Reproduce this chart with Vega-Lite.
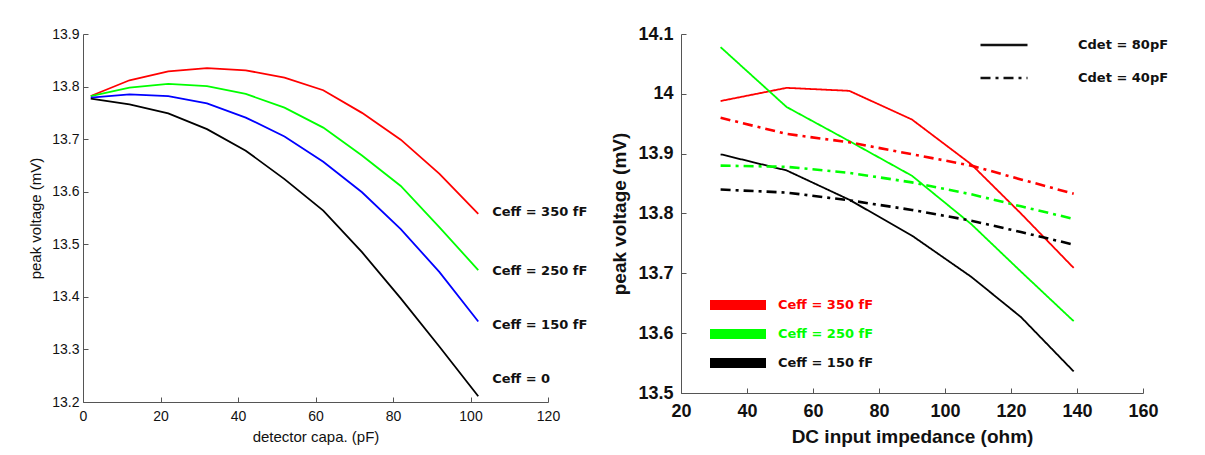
{
  "$schema": "https://vega.github.io/schema/vega-lite/v6.json",
  "background": "white",
  "padding": {"left": 28, "top": 20, "right": 5, "bottom": 5},
  "bounds": "flush",
  "spacing": 133,
  "datasets": {
    "left": [
      {"capa": 2, "voltage": 13.782, "ceff": "Ceff = 350 fF"},
      {"capa": 12, "voltage": 13.812, "ceff": "Ceff = 350 fF"},
      {"capa": 22, "voltage": 13.829, "ceff": "Ceff = 350 fF"},
      {"capa": 32, "voltage": 13.835, "ceff": "Ceff = 350 fF"},
      {"capa": 42, "voltage": 13.831, "ceff": "Ceff = 350 fF"},
      {"capa": 52, "voltage": 13.817, "ceff": "Ceff = 350 fF"},
      {"capa": 62, "voltage": 13.793, "ceff": "Ceff = 350 fF"},
      {"capa": 72, "voltage": 13.750, "ceff": "Ceff = 350 fF"},
      {"capa": 82, "voltage": 13.699, "ceff": "Ceff = 350 fF"},
      {"capa": 92, "voltage": 13.634, "ceff": "Ceff = 350 fF"},
      {"capa": 102, "voltage": 13.558, "ceff": "Ceff = 350 fF"},
      {"capa": 2, "voltage": 13.782, "ceff": "Ceff = 250 fF"},
      {"capa": 12, "voltage": 13.798, "ceff": "Ceff = 250 fF"},
      {"capa": 22, "voltage": 13.805, "ceff": "Ceff = 250 fF"},
      {"capa": 32, "voltage": 13.801, "ceff": "Ceff = 250 fF"},
      {"capa": 42, "voltage": 13.786, "ceff": "Ceff = 250 fF"},
      {"capa": 52, "voltage": 13.760, "ceff": "Ceff = 250 fF"},
      {"capa": 62, "voltage": 13.722, "ceff": "Ceff = 250 fF"},
      {"capa": 72, "voltage": 13.669, "ceff": "Ceff = 250 fF"},
      {"capa": 82, "voltage": 13.611, "ceff": "Ceff = 250 fF"},
      {"capa": 92, "voltage": 13.532, "ceff": "Ceff = 250 fF"},
      {"capa": 102, "voltage": 13.451, "ceff": "Ceff = 250 fF"},
      {"capa": 2, "voltage": 13.779, "ceff": "Ceff = 150 fF"},
      {"capa": 12, "voltage": 13.785, "ceff": "Ceff = 150 fF"},
      {"capa": 22, "voltage": 13.782, "ceff": "Ceff = 150 fF"},
      {"capa": 32, "voltage": 13.768, "ceff": "Ceff = 150 fF"},
      {"capa": 42, "voltage": 13.741, "ceff": "Ceff = 150 fF"},
      {"capa": 52, "voltage": 13.705, "ceff": "Ceff = 150 fF"},
      {"capa": 62, "voltage": 13.657, "ceff": "Ceff = 150 fF"},
      {"capa": 72, "voltage": 13.599, "ceff": "Ceff = 150 fF"},
      {"capa": 82, "voltage": 13.529, "ceff": "Ceff = 150 fF"},
      {"capa": 92, "voltage": 13.447, "ceff": "Ceff = 150 fF"},
      {"capa": 102, "voltage": 13.353, "ceff": "Ceff = 150 fF"},
      {"capa": 2, "voltage": 13.777, "ceff": "Ceff = 0"},
      {"capa": 12, "voltage": 13.766, "ceff": "Ceff = 0"},
      {"capa": 22, "voltage": 13.749, "ceff": "Ceff = 0"},
      {"capa": 32, "voltage": 13.719, "ceff": "Ceff = 0"},
      {"capa": 42, "voltage": 13.678, "ceff": "Ceff = 0"},
      {"capa": 52, "voltage": 13.624, "ceff": "Ceff = 0"},
      {"capa": 62, "voltage": 13.564, "ceff": "Ceff = 0"},
      {"capa": 72, "voltage": 13.485, "ceff": "Ceff = 0"},
      {"capa": 82, "voltage": 13.397, "ceff": "Ceff = 0"},
      {"capa": 92, "voltage": 13.305, "ceff": "Ceff = 0"},
      {"capa": 102, "voltage": 13.211, "ceff": "Ceff = 0"}
    ],
    "leftLabels": [
      {"capa": 102, "voltage": 13.562, "label": "Ceff = 350 fF"},
      {"capa": 102, "voltage": 13.449, "label": "Ceff = 250 fF"},
      {"capa": 102, "voltage": 13.347, "label": "Ceff = 150 fF"},
      {"capa": 102, "voltage": 13.244, "label": "Ceff = 0"}
    ],
    "right": [
      {"imp": 32, "voltage": 13.988, "ceff": "Ceff = 350 fF", "cdet": "Cdet = 80pF"},
      {"imp": 52, "voltage": 14.010, "ceff": "Ceff = 350 fF", "cdet": "Cdet = 80pF"},
      {"imp": 71, "voltage": 14.005, "ceff": "Ceff = 350 fF", "cdet": "Cdet = 80pF"},
      {"imp": 90, "voltage": 13.957, "ceff": "Ceff = 350 fF", "cdet": "Cdet = 80pF"},
      {"imp": 108, "voltage": 13.882, "ceff": "Ceff = 350 fF", "cdet": "Cdet = 80pF"},
      {"imp": 123, "voltage": 13.800, "ceff": "Ceff = 350 fF", "cdet": "Cdet = 80pF"},
      {"imp": 139, "voltage": 13.709, "ceff": "Ceff = 350 fF", "cdet": "Cdet = 80pF"},
      {"imp": 32, "voltage": 14.078, "ceff": "Ceff = 250 fF", "cdet": "Cdet = 80pF"},
      {"imp": 52, "voltage": 13.978, "ceff": "Ceff = 250 fF", "cdet": "Cdet = 80pF"},
      {"imp": 71, "voltage": 13.921, "ceff": "Ceff = 250 fF", "cdet": "Cdet = 80pF"},
      {"imp": 90, "voltage": 13.863, "ceff": "Ceff = 250 fF", "cdet": "Cdet = 80pF"},
      {"imp": 108, "voltage": 13.782, "ceff": "Ceff = 250 fF", "cdet": "Cdet = 80pF"},
      {"imp": 123, "voltage": 13.703, "ceff": "Ceff = 250 fF", "cdet": "Cdet = 80pF"},
      {"imp": 139, "voltage": 13.620, "ceff": "Ceff = 250 fF", "cdet": "Cdet = 80pF"},
      {"imp": 32, "voltage": 13.899, "ceff": "Ceff = 150 fF", "cdet": "Cdet = 80pF"},
      {"imp": 52, "voltage": 13.872, "ceff": "Ceff = 150 fF", "cdet": "Cdet = 80pF"},
      {"imp": 71, "voltage": 13.823, "ceff": "Ceff = 150 fF", "cdet": "Cdet = 80pF"},
      {"imp": 90, "voltage": 13.763, "ceff": "Ceff = 150 fF", "cdet": "Cdet = 80pF"},
      {"imp": 108, "voltage": 13.694, "ceff": "Ceff = 150 fF", "cdet": "Cdet = 80pF"},
      {"imp": 123, "voltage": 13.627, "ceff": "Ceff = 150 fF", "cdet": "Cdet = 80pF"},
      {"imp": 139, "voltage": 13.536, "ceff": "Ceff = 150 fF", "cdet": "Cdet = 80pF"},
      {"imp": 32, "voltage": 13.960, "ceff": "Ceff = 350 fF", "cdet": "Cdet = 40pF"},
      {"imp": 52, "voltage": 13.933, "ceff": "Ceff = 350 fF", "cdet": "Cdet = 40pF"},
      {"imp": 71, "voltage": 13.919, "ceff": "Ceff = 350 fF", "cdet": "Cdet = 40pF"},
      {"imp": 90, "voltage": 13.899, "ceff": "Ceff = 350 fF", "cdet": "Cdet = 40pF"},
      {"imp": 108, "voltage": 13.880, "ceff": "Ceff = 350 fF", "cdet": "Cdet = 40pF"},
      {"imp": 123, "voltage": 13.857, "ceff": "Ceff = 350 fF", "cdet": "Cdet = 40pF"},
      {"imp": 139, "voltage": 13.833, "ceff": "Ceff = 350 fF", "cdet": "Cdet = 40pF"},
      {"imp": 32, "voltage": 13.880, "ceff": "Ceff = 250 fF", "cdet": "Cdet = 40pF"},
      {"imp": 52, "voltage": 13.878, "ceff": "Ceff = 250 fF", "cdet": "Cdet = 40pF"},
      {"imp": 71, "voltage": 13.868, "ceff": "Ceff = 250 fF", "cdet": "Cdet = 40pF"},
      {"imp": 90, "voltage": 13.852, "ceff": "Ceff = 250 fF", "cdet": "Cdet = 40pF"},
      {"imp": 108, "voltage": 13.832, "ceff": "Ceff = 250 fF", "cdet": "Cdet = 40pF"},
      {"imp": 123, "voltage": 13.812, "ceff": "Ceff = 250 fF", "cdet": "Cdet = 40pF"},
      {"imp": 139, "voltage": 13.791, "ceff": "Ceff = 250 fF", "cdet": "Cdet = 40pF"},
      {"imp": 32, "voltage": 13.840, "ceff": "Ceff = 150 fF", "cdet": "Cdet = 40pF"},
      {"imp": 52, "voltage": 13.835, "ceff": "Ceff = 150 fF", "cdet": "Cdet = 40pF"},
      {"imp": 71, "voltage": 13.822, "ceff": "Ceff = 150 fF", "cdet": "Cdet = 40pF"},
      {"imp": 90, "voltage": 13.806, "ceff": "Ceff = 150 fF", "cdet": "Cdet = 40pF"},
      {"imp": 108, "voltage": 13.788, "ceff": "Ceff = 150 fF", "cdet": "Cdet = 40pF"},
      {"imp": 123, "voltage": 13.769, "ceff": "Ceff = 150 fF", "cdet": "Cdet = 40pF"},
      {"imp": 139, "voltage": 13.748, "ceff": "Ceff = 150 fF", "cdet": "Cdet = 40pF"}
    ]
  },
  "hconcat": [
    {
      "width": 465,
      "height": 368,
      "layer": [
        {
          "data": {"name": "left"},
          "mark": {"type": "line", "strokeWidth": 1.8},
          "encoding": {
            "x": {
              "field": "capa", "type": "quantitative",
              "scale": {"domain": [0, 120], "nice": false, "zero": false},
              "axis": {"title": "detector capa. (pF)", "values": [0, 20, 40, 60, 80, 100, 120], "format": "~r",
                "labelFont": "Liberation Sans", "labelFontSize": 14, "labelPadding": 12,
                "titleFont": "Liberation Sans", "titleFontSize": 15, "titleFontWeight": "normal", "titlePadding": 6}
            },
            "y": {
              "field": "voltage", "type": "quantitative",
              "scale": {"domain": [13.2, 13.9], "nice": false, "zero": false},
              "axis": {"title": "peak voltage (mV)", "values": [13.2, 13.3, 13.4, 13.5, 13.6, 13.7, 13.8, 13.9], "format": "~r",
                "labelFont": "Liberation Sans", "labelFontSize": 14, "labelPadding": 9,
                "titleFont": "Liberation Sans", "titleFontSize": 15, "titleFontWeight": "normal", "titlePadding": 8}
            },
            "color": {
              "field": "ceff", "type": "nominal",
              "scale": {"domain": ["Ceff = 350 fF", "Ceff = 250 fF", "Ceff = 150 fF", "Ceff = 0"], "range": ["#ff0000", "#00ff00", "#0000ff", "#000000"]},
              "legend": null
            }
          }
        },
        {
          "data": {"name": "leftLabels"},
          "mark": {"type": "text", "align": "left", "baseline": "middle", "dx": 14, "font": "DejaVu Sans", "fontWeight": "bold", "fontSize": 13, "color": "#111111"},
          "encoding": {
            "x": {"field": "capa", "type": "quantitative"},
            "y": {"field": "voltage", "type": "quantitative"},
            "text": {"field": "label", "type": "nominal"}
          }
        }
      ]
    },
    {
      "width": 462,
      "height": 359,
      "data": {"name": "right"},
      "mark": {"type": "line"},
      "encoding": {
        "x": {
          "field": "imp", "type": "quantitative",
          "scale": {"domain": [20, 160], "nice": false, "zero": false},
          "axis": {"title": "DC input impedance (ohm)", "values": [20, 40, 60, 80, 100, 120, 140, 160], "format": "~r",
            "labelFont": "Liberation Sans", "labelFontSize": 18, "labelFontWeight": "bold", "labelPadding": 14,
            "titleFont": "Liberation Sans", "titleFontSize": 19, "titleFontWeight": "bold", "titlePadding": 7}
        },
        "y": {
          "field": "voltage", "type": "quantitative",
          "scale": {"domain": [13.5, 14.1], "nice": false, "zero": false},
          "axis": {"title": "peak voltage (mV)", "values": [13.5, 13.6, 13.7, 13.8, 13.9, 14, 14.1], "format": "~r",
            "labelFont": "Liberation Sans", "labelFontSize": 18, "labelFontWeight": "bold", "labelPadding": 13,
            "titleFont": "Liberation Sans", "titleFontSize": 19, "titleFontWeight": "bold", "titlePadding": 8}
        },
        "color": {
          "field": "ceff", "type": "nominal",
          "scale": {"domain": ["Ceff = 350 fF", "Ceff = 250 fF", "Ceff = 150 fF"], "range": ["#ff0000", "#00ff00", "#000000"]},
          "legend": {
            "title": null, "orient": "none", "legendX": 50, "legendY": 264, "padding": 0,
            "symbolType": "M-4,-0.7H4V0.7H-4Z", "symbolSize": 196, "symbolStrokeWidth": 0,
            "labelFont": "DejaVu Sans", "labelFontWeight": "bold", "labelFontSize": 13, "labelOffset": 33,
            "rowPadding": 15, "labelLimit": 300,
            "encode": {
              "symbols": {"update": {
                "fill": {"signal": "datum.value === 'Ceff = 350 fF' ? '#ff0000' : datum.value === 'Ceff = 250 fF' ? '#00ff00' : '#000000'"},
                "fillOpacity": {"value": 1},
                "strokeWidth": {"value": 0}
              }},
              "labels": {"update": {"fill": {"signal": "datum.value === 'Ceff = 350 fF' ? '#ff0000' : datum.value === 'Ceff = 250 fF' ? '#00ff00' : '#111111'"}}}
            }
          }
        },
        "strokeDash": {
          "field": "cdet", "type": "nominal",
          "scale": {"domain": ["Cdet = 80pF", "Cdet = 40pF"], "range": [[1, 0], [10, 5, 3, 5]]},
          "legend": {
            "title": null, "orient": "none", "legendX": 298, "legendY": -14, "padding": 0,
            "symbolType": "stroke", "symbolSize": 2209, "symbolStrokeWidth": 2.5, "symbolStrokeColor": "#111111",
            "labelFont": "DejaVu Sans", "labelFontWeight": "bold", "labelFontSize": 13, "labelOffset": 49, "labelColor": "#111111",
            "rowPadding": 1, "labelLimit": 300
          }
        },
        "strokeWidth": {
          "field": "cdet", "type": "nominal",
          "scale": {"domain": ["Cdet = 80pF", "Cdet = 40pF"], "range": [1.8, 2.6]},
          "legend": null
        }
      }
    }
  ],
  "resolve": {"scale": {"color": "independent", "strokeDash": "independent", "x": "independent", "y": "independent"}},
  "config": {
    "view": {"stroke": null},
    "axis": {
      "grid": false,
      "domainColor": "#555555",
      "tickColor": "#555555",
      "tickSize": -5,
      "labelColor": "#111111",
      "titleColor": "#111111",
      "labelFlush": false,
      "labelOverlap": false
    }
  }
}
